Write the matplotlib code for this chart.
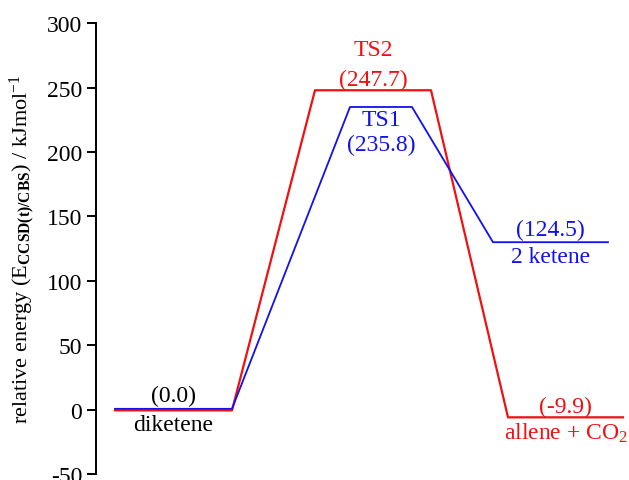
import matplotlib
matplotlib.use("Agg")
import matplotlib.pyplot as plt

plt.rcParams['font.family'] = ['Liberation Serif', 'DejaVu Serif']
plt.rcParams['mathtext.fontset'] = 'custom'
plt.rcParams['mathtext.rm'] = 'Liberation Serif'
plt.rcParams['mathtext.it'] = 'Liberation Serif:italic'
plt.rcParams['mathtext.bf'] = 'Liberation Serif:bold'
plt.rcParams['axes.unicode_minus'] = False

# Energy levels as drawn (kJ/mol) and the values printed next to them
red_levels = [-0.6, 248.0, -6.0]
red_values = ['(0.0)', '(247.7)', '(-9.9)']
red_names = ['diketene', 'TS2', 'allene + CO$_2$']
blue_levels = [0.6, 235.0, 130.0]
blue_values = ['(0.0)', '(235.8)', '(124.5)']
blue_names = ['diketene', 'TS1', '2 ketene']

# plateau start / end along the reaction coordinate
red_x = [(0.19, 1.36), (2.19, 3.35), (4.12, 5.27)]
blue_x = [(0.19, 1.36), (2.54, 3.16), (3.97, 5.12)]

yticks = [-50, 0, 50, 100, 150, 200, 250, 300]

red = '#f01010'
blue = '#1010f0'

fig = plt.figure(figsize=(6.29, 4.81), dpi=100)
ax = fig.add_axes([0.1526, 0.0125, 0.8474, 0.937])


def profile(levels, xs):
    px, py = [], []
    for lv, (a, b) in zip(levels, xs):
        px += [a, b]
        py += [lv, lv]
    return px, py


rx, ry = profile(red_levels, red_x)
bx, by = profile(blue_levels, blue_x)
ax.plot(rx, ry, color=red, lw=1.6, zorder=2)
ax.plot(bx, by, color=blue, lw=1.3, zorder=3)


def label(x, y, text, color, dy):
    ax.annotate(text, (x, y), xytext=(0, dy), textcoords='offset pixels',
                ha='center', va='center', color=color, fontsize=17)


# diketene (shared start)
cx = sum(red_x[0]) / 2
label(cx, 0, red_values[0], 'black', 14)
label(cx, 0, red_names[0], 'black', -15)

# TS2 (red)
cx = sum(red_x[1]) / 2
label(cx, red_levels[1], red_names[1], red, 41)
label(cx, red_levels[1], red_values[1], red, 11)

# TS1 (blue)
cx = sum(blue_x[1]) / 2
label(cx, blue_levels[1], blue_names[1], blue, -13)
label(cx, blue_levels[1], blue_values[1], blue, -37)

# 2 ketene (blue)
cx = sum(blue_x[2]) / 2
label(cx, blue_levels[2], blue_values[2], blue, 13)
label(cx, blue_levels[2], blue_names[2], blue, -14)

# allene + CO2 (red)
cx = sum(red_x[2]) / 2
label(cx, red_levels[2], red_values[2], red, 11)
label(cx, red_levels[2], red_names[2], red, -15)

ax.set_xlim(0, 5.33)
ax.set_ylim(-50, 300)
ax.set_yticks(yticks)
ax.set_xticks([])
for s in ['top', 'right', 'bottom']:
    ax.spines[s].set_visible(False)
ax.spines['left'].set_linewidth(1.4)
ax.tick_params(axis='y', direction='out', length=6.5, width=1.4, pad=3.5,
               labelsize=17)
ax.set_ylabel('relative energy (E$_{\\mathbf{CCSD(t)/CBS}}$) / kJmol$^{-1}$',
              fontsize=16)
ax.yaxis.set_label_coords(-0.111, 0.5)
ax.patch.set_alpha(0)

fig.savefig('out.png', dpi=100)
